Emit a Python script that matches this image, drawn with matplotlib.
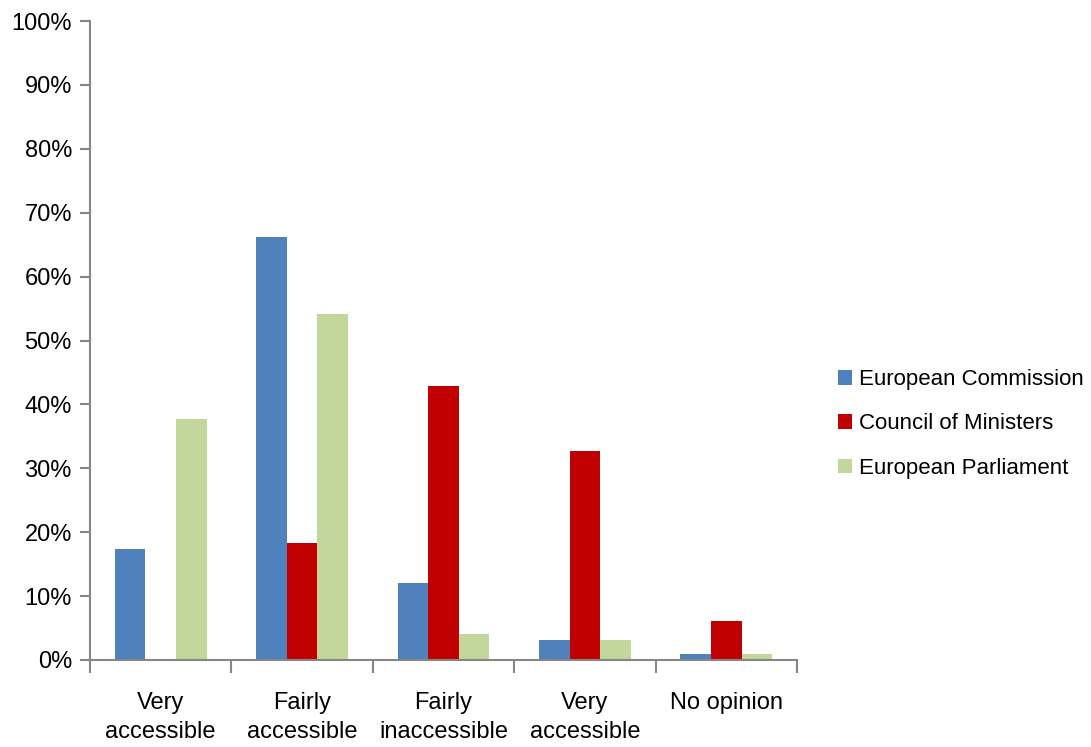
import numpy as np
import matplotlib
matplotlib.use("Agg")
import matplotlib.pyplot as plt

# categories and the share answering each (percent)
categories = ["Very\naccessible", "Fairly\naccessible", "Fairly\ninaccessible",
              "Very\naccessible", "No opinion"]
series = ["European Commission", "Council of Ministers", "European Parliament"]
commission = [17.3, 66.2, 12.1, 3.1, 0.9]
council = [0.0, 18.3, 42.9, 32.7, 6.1]
parliament = [37.7, 54.1, 4.1, 3.1, 0.9]
colors = ["#4F81BD", "#C00000", "#C3D69B"]

plt.rcParams['font.family'] = ['Liberation Sans', 'DejaVu Sans']

fig = plt.figure(figsize=(10.91, 7.47), dpi=100)
ax = fig.add_axes([90/1091, 87/747, 707/1091, 639/747])

x = np.arange(len(categories))
w = 0.216
for k, vals in enumerate([commission, council, parliament]):
    ax.bar(x + (k - 1) * w, vals, w, color=colors[k], label=series[k],
           edgecolor='none')

ax.set_xlim(-0.5, len(categories) - 0.5)
ax.set_ylim(0, 100)
ax.set_yticks(np.arange(0, 101, 10))
ax.set_yticklabels([f"{v}%" for v in range(0, 101, 10)], fontsize=17)
ax.set_xticks(x)
ax.set_xticklabels(categories, fontsize=17, linespacing=1.4)
ax.set_xticks(np.arange(-0.5, len(categories), 1), minor=True)

gray = "#868686"
for s in ["top", "right"]:
    ax.spines[s].set_visible(False)
for s in ["left", "bottom"]:
    ax.spines[s].set_color(gray)
    ax.spines[s].set_linewidth(1.5)
ax.tick_params(axis='y', length=7, width=1.5, color=gray, pad=6)
ax.tick_params(axis='x', which='major', length=0, pad=23)
ax.tick_params(axis='x', which='minor', length=9, width=1.5, color=gray)

fig.legend(loc='center left', bbox_to_anchor=(818/1091, 1 - 424/747),
           frameon=False, fontsize=16, handlelength=0.65, handleheight=0.65,
           handletextpad=0.3, labelspacing=1.05)

fig.savefig("out.png", dpi=100, facecolor="white")
